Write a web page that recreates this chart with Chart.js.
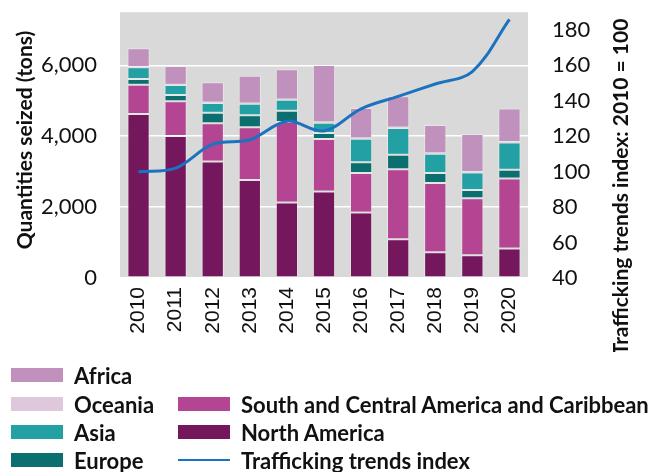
<!DOCTYPE html>
<html>
<head>
<meta charset="utf-8">
<script src="https://cdn.jsdelivr.net/npm/chart.js@4"></script>
<style>
  body { margin: 0; background: #fff; }
  #wrap { position: relative; width: 660px; height: 472px; overflow: hidden; }
  #chart-box { position: absolute; left: 0; top: -25px; width: 660px; height: 377px; }
  #legend { position: absolute; left: 0; top: 0; width: 660px; height: 472px; pointer-events: none;
            font-family: Lato, "Open Sans", sans-serif; font-weight: bold; font-size: 22px; color: #111; }
  .item { position: absolute; height: 28px; display: flex; align-items: center; white-space: nowrap; }
  .swatch { width: 52px; height: 14px; margin-right: 11px; }
  .lineswatch { width: 52px; height: 2px; margin-right: 11px; }
</style>
</head>
<body>
<div id="wrap">
  <div id="chart-box"><canvas id="wykres"></canvas></div>
  <div id="legend"></div>
</div>
<script>
// lata
const lata = ["2010", "2011", "2012", "2013", "2014", "2015", "2016", "2017", "2018", "2019", "2020"];

// ilosci przechwycone (tony) wg regionu
const ameryka_pn = [4630, 4010, 3290, 2765, 2130, 2440, 1850, 1090, 730, 640, 835];
const ameryka_pd = [825, 975, 1080, 1490, 2270, 1480, 1115, 1980, 1950, 1610, 1970];
const europa = [160, 180, 290, 340, 320, 170, 300, 410, 280, 235, 250];
const azja = [330, 280, 280, 320, 310, 290, 665, 750, 545, 490, 770];
const oceania = [10, 10, 10, 10, 10, 15, 15, 15, 15, 15, 15];
const afryka = [525, 525, 570, 785, 850, 1615, 850, 885, 800, 1070, 940];

// indeks trendow (2010 = 100)
const indeks = [100, 102, 115.5, 118, 128.5, 123, 135.5, 142.5, 149.5, 156.5, 186];

// etykiety osi
const ticksLewa = [0, 2000, 4000, 6000];
const ticksPrawa = [40, 60, 80, 100, 120, 140, 160, 180];

const FONT = "Lato, 'Open Sans', sans-serif";
const PRZESUNIECIE = 25; // canvas przesuniety w gore o tyle pikseli

// szare tlo obszaru wykresu
const tloWykresu = {
  id: "tloWykresu",
  beforeDraw(chart) {
    const { ctx, chartArea } = chart;
    ctx.save();
    ctx.fillStyle = "#d9d9d9";
    ctx.fillRect(chartArea.left, chartArea.top, chartArea.right - chartArea.left, chartArea.bottom - chartArea.top);
    ctx.restore();
  },
};

// tytuly osi (oba czytane od dolu do gory)
const tytulyOsi = {
  id: "tytulyOsi",
  afterDraw(chart) {
    const { ctx } = chart;
    const rysuj = (tekst, x, y) => {
      ctx.save();
      ctx.translate(x, y + PRZESUNIECIE);
      ctx.rotate(-Math.PI / 2);
      ctx.font = "bold 21px " + FONT;
      ctx.fillStyle = "#111";
      ctx.textAlign = "center";
      ctx.textBaseline = "middle";
      ctx.fillText(tekst, 0, 0);
      ctx.restore();
    };
    rysuj("Quantities seized (tons)", 25, 140);
    rysuj("Trafficking trends index: 2010 = 100", 621, 187);
  },
};

function slupek(label, dane, kolor) {
  return {
    type: "bar",
    label: label,
    data: dane,
    backgroundColor: kolor,
    borderColor: "rgba(255,255,255,0.35)",
    borderWidth: 1,
    borderSkipped: false,
    barPercentage: 0.6,
    categoryPercentage: 1,
    yAxisID: "y",
    stack: "s",
    order: 2,
  };
}

const ctx = document.getElementById("wykres");
const wykres = new Chart(ctx, {
  data: {
    labels: lata,
    datasets: [
      slupek("North America", ameryka_pn, "#74175c"),
      slupek("South and Central America and Caribbean", ameryka_pd, "#b44593"),
      slupek("Europe", europa, "#0b6e6f"),
      slupek("Asia", azja, "#22a0a4"),
      slupek("Oceania", oceania, "#dfc8dc"),
      slupek("Africa", afryka, "#c091bd"),
      {
        type: "line",
        label: "Trafficking trends index",
        data: indeks,
        borderColor: "#1b73c0",
        backgroundColor: "#1b73c0",
        borderWidth: 3,
        pointRadius: 0,
        tension: 0.35,
        yAxisID: "y1",
        order: 1,
      },
    ],
  },
  options: {
    responsive: true,
    maintainAspectRatio: false,
    animation: false,
    layout: { padding: { top: 12, left: 0, right: 0, bottom: 0 } },
    plugins: {
      legend: { display: false },
      tooltip: { enabled: false },
    },
    scales: {
      x: {
        stacked: true,
        grid: { display: false, drawTicks: false },
        border: { display: false },
        afterFit: (os) => { os.height = 74; },
        ticks: {
          color: "#111",
          font: { family: "'Liberation Sans', Arial, sans-serif", size: 21 },
          minRotation: 90,
          maxRotation: 90,
          padding: 9,
        },
      },
      y: {
        stacked: true,
        position: "left",
        min: 0,
        max: 7500,
        afterBuildTicks: (os) => {
          os.ticks = ticksLewa.map((v) => ({ value: v }));
        },
        afterFit: (os) => { os.width = 120; },
        grid: { color: "#ffffff", lineWidth: 1.5, drawTicks: false },
        border: { display: false },
        ticks: {
          color: "#111",
          font: { family: FONT, size: 22 },
          padding: 23,
          callback: (v) => v.toLocaleString("en-US"),
        },
      },
      y1: {
        position: "right",
        min: 40,
        max: 190,
        afterBuildTicks: (os) => {
          os.ticks = ticksPrawa.map((v) => ({ value: v }));
        },
        afterFit: (os) => { os.width = 132; },
        grid: { display: false, drawTicks: false },
        border: { display: false },
        ticks: {
          color: "#111",
          font: { family: FONT, size: 22 },
          padding: 24,
        },
      },
    },
  },
  plugins: [tloWykresu, tytulyOsi],
});

// legenda w HTML na podstawie zestawow danych
const ukladLegendy = [
  ["Africa", 11, 375],
  ["Oceania", 11, 404],
  ["Asia", 11, 432],
  ["Europe", 11, 460],
  ["South and Central America and Caribbean", 178, 404],
  ["North America", 178, 432],
  ["Trafficking trends index", 178, 460],
];
const legenda = document.getElementById("legend");
ukladLegendy.forEach(([nazwa, x, y]) => {
  const ds = wykres.data.datasets.find((d) => d.label === nazwa);
  const el = document.createElement("div");
  el.className = "item";
  el.style.left = x + "px";
  el.style.top = (y - 14) + "px";
  const sw = document.createElement("span");
  if (ds.type === "line") {
    sw.className = "lineswatch";
    sw.style.background = ds.borderColor;
  } else {
    sw.className = "swatch";
    sw.style.background = ds.backgroundColor;
  }
  const tx = document.createElement("span");
  tx.textContent = nazwa;
  el.appendChild(sw);
  el.appendChild(tx);
  legenda.appendChild(el);
});
</script>
</body>
</html>
